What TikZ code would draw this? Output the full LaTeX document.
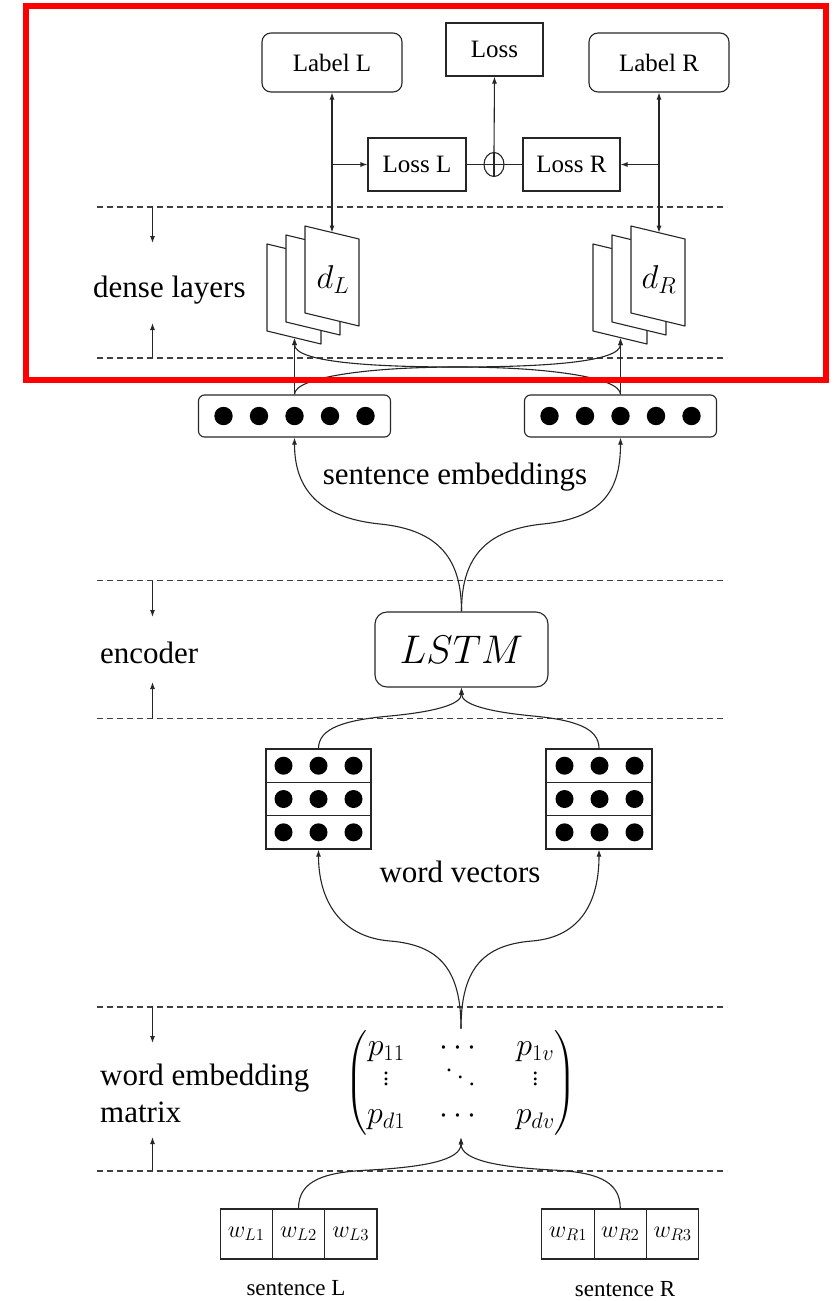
\RequirePackage{fix-cm}
\documentclass[tikz,border=0pt]{standalone}
\usepackage{amsmath}
\usepackage{fontspec}
\setmainfont{Liberation Serif}
\usetikzlibrary{arrows.meta,shapes.geometric}

% small dots for the matrix ellipses
\newcommand\pdotfont{\fontsize{24}{24}\selectfont}
\newcommand\mvdots{\raise4pt\vbox{\baselineskip=5.5pt\lineskiplimit=0pt
  \hbox{\pdotfont.}\hbox{\pdotfont.}\hbox{\pdotfont.}}}
\newcommand\mddots{\mathinner{\raise18pt\hbox{\pdotfont.}\mkern3mu
  \raise11pt\hbox{\pdotfont.}\mkern3mu\raise4pt\hbox{\pdotfont.}}}

\tikzset{
  ln/.style={line width=1.1pt, draw=black!85},
  arr/.style={ln, -{Latex[length=7pt,width=5pt]}},
  darr/.style={ln, {Latex[length=7pt,width=5pt]}-{Latex[length=7pt,width=5pt]}},
  sep/.style={line width=1.1pt, draw=black!75, dash pattern=on 6pt off 4pt},
  rbox/.style={ln, rounded corners=9pt, inner sep=0pt, font=\fontsize{25}{30}\selectfont},
  sbox/.style={ln, inner sep=0pt, font=\fontsize{25}{30}\selectfont},
  side/.style={font=\fontsize{31}{37}\selectfont, inner sep=0pt, anchor=west, align=left},
  mid/.style={font=\fontsize{31}{37}\selectfont, inner sep=0pt},
  small/.style={font=\fontsize{23}{28}\selectfont, inner sep=0pt},
  sheet/.style={ln, fill=white, line join=round},
  cell/.style={ln, minimum width=52.3pt, minimum height=50pt, inner sep=0pt, font=\fontsize{24}{28}\selectfont},
  dlabel/.style={font=\fontsize{33}{38}\selectfont, inner sep=0pt},
}

\begin{document}
\begin{tikzpicture}[x=1pt,y=-1pt]
\useasboundingbox (0,0) rectangle (836,1301);

% layer separators
\foreach \y in {207,358,580.5,718.5,1007,1171}
  \draw[sep] (97,\y) -- (727,\y);

% side markers between separators
\foreach \i/\ya/\yb/\yc/\yd in {1/207/243/358/323, 2/580.5/617/718.5/682, 3/1007/1043/1171/1137} {
  \coordinate (t\i) at (152.5,\ya); \coordinate (u\i) at (152.5,\yb);
  \coordinate (b\i) at (152.5,\yc); \coordinate (v\i) at (152.5,\yd);
  \draw[arr] (t\i) -- (u\i);
  \draw[arr] (b\i) -- (v\i);
}

\node[side] (txdense) at (93,290) {dense layers};
\node[side] (txenc) at (100,653) {encoder};
\node[side] (txemb) at (100,1093.5) {word embedding\\matrix};

% ---------- loss block ----------
\node[rbox, minimum width=140pt, minimum height=59pt] (labL) at (332,62.5) {Label L};
\node[sbox, minimum width=97pt, minimum height=53pt] (loss) at (494.5,49.5) {Loss};
\node[rbox, minimum width=140pt, minimum height=59pt] (labR) at (659,62.5) {Label R};
\node[sbox, minimum width=98pt, minimum height=53pt] (lossL) at (417,164.5) {Loss L};
\node[sbox, minimum width=97pt, minimum height=53pt] (lossR) at (571.5,164.5) {Loss R};
\node[ellipse, ln, minimum width=20pt, minimum height=24pt, inner sep=0pt] (sum) at (494,164.5) {};
\draw[ln] (sum.north) -- (sum.south) (sum.west) -- (sum.east);

% ---------- dense layer stacks ----------
\foreach \bx in {305,631} {
  \foreach \k in {2,1,0} {
    \filldraw[sheet] ({\bx-19*\k},{226+9*\k}) -- ++(54,13) -- ++(0,87) -- ++(-54,-13) -- cycle;
  }
}
\node[dlabel] (dL) at (333,280) {$d_L$};
\node[dlabel] (dR) at (659,280) {$d_R$};
\coordinate (dLin) at (332,232.5);
\coordinate (dRin) at (659,232.7);
\coordinate (dLbot) at (294.5,338);
\coordinate (dRbot) at (620.5,338);
\coordinate (jL) at (332,164.5);
\coordinate (jR) at (659,164.5);

\draw[darr] (labL.south) -- (dLin);
\draw[darr] (labR.south) -- (dRin);
\draw[arr] (jL) -- (lossL.west);
\draw[arr] (jR) -- (lossR.east);
\draw[ln] (lossL.east) -- (sum.west);
\draw[ln] (sum.east) -- (lossR.west);
\draw[arr] (sum.north) -- (loss.south);

% ---------- sentence embeddings ----------
\node[rbox, rounded corners=6pt, minimum width=192pt, minimum height=42pt] (sel) at (294.5,416) {};
\node[rbox, rounded corners=6pt, minimum width=192pt, minimum height=42pt] (ser) at (620.5,416) {};
\foreach \c in {294.5,620.5}
  \foreach \d in {-71,-35.5,0,35.5,71}
    \fill ({\c+\d},416) circle (9.2);
\node[mid] (txsent) at (455,477) {sentence embeddings};

\draw[arr] (sel.north) -- (dLbot);
\draw[arr] (ser.north) -- (dRbot);
\draw[arr] (sel.north) .. controls (294.5,377) and (370,367) .. (457.5,367)
                       .. controls (545,367) and (620.5,362) .. (dRbot);
\draw[arr] (ser.north) .. controls (620.5,377) and (545,367) .. (457.5,367)
                       .. controls (370,367) and (294.5,362) .. (dLbot);

% ---------- encoder ----------
\node[rbox, rounded corners=12pt, minimum width=173pt, minimum height=75pt,
      font=\fontsize{40}{48}\selectfont] (lstm) at (461.5,649.5) {$LSTM$};
\draw[arr] (lstm.north) .. controls (461.5,560) and (440,530) .. (380,524)
                        .. controls (320,518) and (294.5,490) .. (sel.south);
\draw[arr] (lstm.north) .. controls (461.5,560) and (483,530) .. (543,524)
                        .. controls (603,518) and (620.5,490) .. (ser.south);

% ---------- word vectors ----------
\node[sbox, minimum width=105pt, minimum height=100pt] (wvl) at (318.5,799) {};
\node[sbox, minimum width=106pt, minimum height=100pt] (wvr) at (599,799) {};
\draw[ln] (266,782.3) -- (371,782.3) (266,815.7) -- (371,815.7);
\draw[ln] (546,782.3) -- (652,782.3) (546,815.7) -- (652,815.7);
\foreach \c in {318.5,599.5}
  \foreach \d in {-35,0,35}
    \foreach \r in {765.7,799,832.3}
      \fill ({\c+\d},\r) circle (9);
\node[mid] (txwv) at (460,872) {word vectors};

\draw[arr] (wvl.north) .. controls (318.5,728) and (345,720) .. (390,716)
                       .. controls (432,712) and (461.5,705) .. (lstm.south);
\draw[arr] (wvr.north) .. controls (599,728) and (575,720) .. (533,716)
                       .. controls (491,712) and (461.5,705) .. (lstm.south);

% ---------- embedding matrix ----------
\node[inner sep=2pt, font=\fontsize{32}{34}\selectfont] (emb) at (461,1083)
  {\renewcommand\arraystretch{1.0}\setlength\arraycolsep{17pt}%
   $\begin{pmatrix} p_{11} & \cdots & p_{1v}\\ \mvdots & \mddots & \mvdots\\ p_{d1} & \cdots & p_{dv}\end{pmatrix}$};

\draw[arr] (emb.north) .. controls (461,970) and (440,945) .. (390,941)
                       .. controls (340,937) and (318.5,900) .. (wvl.south);
\draw[arr] (emb.north) .. controls (461,970) and (482,945) .. (532,941)
                       .. controls (582,937) and (599,900) .. (wvr.south);

% ---------- input sentences ----------
\node[cell] (wL1) at (246.2,1234) {$w_{L1}$};
\node[cell] (wL2) at (298.5,1234) {$w_{L2}$};
\node[cell] (wL3) at (350.8,1234) {$w_{L3}$};
\node[cell] (wR1) at (568,1234) {$w_{R1}$};
\node[cell] (wR2) at (620.3,1234) {$w_{R2}$};
\node[cell] (wR3) at (672.6,1234) {$w_{R3}$};
\node[small] (snL) at (296,1288) {sentence L};
\node[small] (snR) at (625,1289) {sentence R};

\draw[arr] (wL2.north) .. controls (298.5,1180) and (325,1172) .. (370,1170)
                       .. controls (425,1167) and (461,1160) .. (emb.south);
\draw[arr] (wR2.north) .. controls (620.3,1180) and (595,1172) .. (552,1170)
                       .. controls (497,1167) and (461,1160) .. (emb.south);

% highlight frame around the loss and dense-layer part
\draw[red, line width=6pt] (26,6) rectangle (825.5,380);
\end{tikzpicture}
\end{document}
